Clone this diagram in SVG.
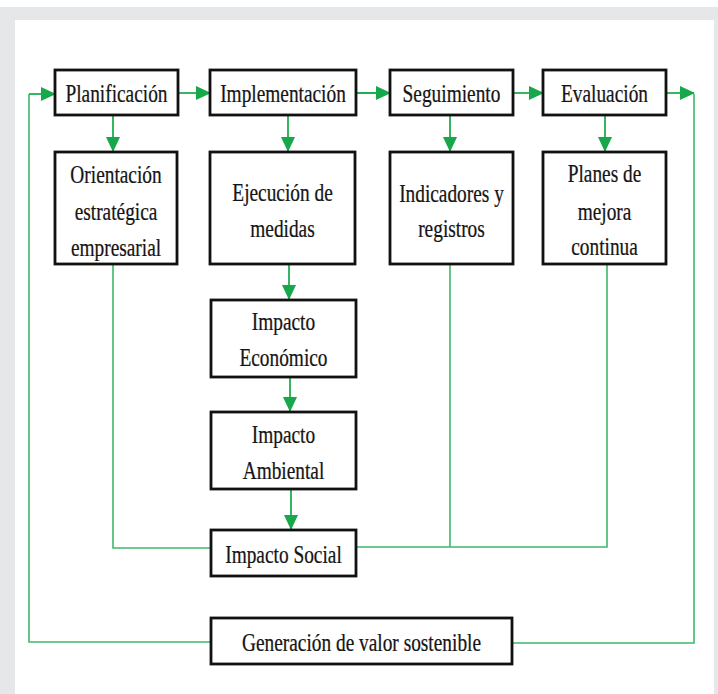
<svg xmlns="http://www.w3.org/2000/svg" width="718" height="694" viewBox="0 0 718 694">
<style>
.box{fill:#fff;stroke:#111;stroke-width:2.8}
.t{font-family:"Liberation Serif","Times New Roman",serif;font-size:24.5px;fill:#151515;stroke:#151515;stroke-width:0.25;text-anchor:middle;transform:scaleX(0.79);transform-box:fill-box;transform-origin:center}
.ln{fill:none;stroke:#3db86b;stroke-width:1.6}
.ar{fill:none;stroke:#1fae50;stroke-width:1.8}
</style>
<defs>
<marker id="ah" markerUnits="userSpaceOnUse" markerWidth="15" markerHeight="14" refX="14" refY="7" orient="auto">
<path d="M0,0 L15,7 L0,14 z" fill="#16a84a"/>
</marker>
</defs>
<rect x="0" y="0" width="718" height="694" fill="#fff"/>
<rect x="0" y="7" width="718" height="687" fill="#e6e7e9"/>
<rect x="15" y="20" width="699" height="674" fill="#fff"/>

<g id="connectors">
<path class="ln" d="M113,264 V548 H211"/>
<path class="ln" d="M356,547 H607 V264"/>
<path class="ln" d="M450,264 V547"/>
<path class="ln" d="M211,642 H29 V94"/>
<path class="ln" d="M512,643 H694 V94"/>
<path class="ar" d="M29,94 H55" marker-end="url(#ah)"/>
<path class="ar" d="M178,93 H210" marker-end="url(#ah)"/>
<path class="ar" d="M356,93 H390" marker-end="url(#ah)"/>
<path class="ar" d="M513,93 H543" marker-end="url(#ah)"/>
<path class="ar" d="M666,93 H694" marker-end="url(#ah)"/>
<path class="ar" d="M113,116 V151" marker-end="url(#ah)"/>
<path class="ar" d="M288,116 V151" marker-end="url(#ah)"/>
<path class="ar" d="M450,116 V151" marker-end="url(#ah)"/>
<path class="ar" d="M605,116 V151" marker-end="url(#ah)"/>
<path class="ar" d="M289,265 V299" marker-end="url(#ah)"/>
<path class="ar" d="M290,378 V411" marker-end="url(#ah)"/>
<path class="ar" d="M291,490 V529" marker-end="url(#ah)"/>
</g>

<g id="planificacion"><rect class="box" x="55" y="70" width="123" height="45"/><text class="t" x="116.5" y="102">Planificación</text></g>
<g id="implementacion"><rect class="box" x="210" y="70" width="146" height="45"/><text class="t" x="283" y="102">Implementación</text></g>
<g id="seguimiento"><rect class="box" x="390" y="70" width="123" height="45"/><text class="t" x="451.5" y="102">Seguimiento</text></g>
<g id="evaluacion"><rect class="box" x="543" y="70" width="123" height="45"/><text class="t" x="604.5" y="102">Evaluación</text></g>

<g id="orientacion"><rect class="box" x="55" y="152" width="122" height="112"/>
<text class="t" x="116" y="183">Orientación</text>
<text class="t" x="116" y="220">estratégica</text>
<text class="t" x="116" y="256">empresarial</text></g>
<g id="ejecucion"><rect class="box" x="210" y="152" width="145" height="112"/>
<text class="t" x="282.5" y="201">Ejecución de</text>
<text class="t" x="282.5" y="237">medidas</text></g>
<g id="indicadores"><rect class="box" x="390" y="152" width="123" height="112"/>
<text class="t" x="451.5" y="202">Indicadores y</text>
<text class="t" x="451.5" y="237">registros</text></g>
<g id="planes"><rect class="box" x="543" y="152" width="123" height="112"/>
<text class="t" x="604.5" y="182">Planes de</text>
<text class="t" x="604.5" y="220">mejora</text>
<text class="t" x="604.5" y="255">continua</text></g>

<g id="economico"><rect class="box" x="211" y="300" width="145" height="77"/>
<text class="t" x="283.5" y="330">Impacto</text>
<text class="t" x="283.5" y="366">Económico</text></g>
<g id="ambiental"><rect class="box" x="211" y="412" width="145" height="77"/>
<text class="t" x="283.5" y="443">Impacto</text>
<text class="t" x="283.5" y="479">Ambiental</text></g>
<g id="social"><rect class="box" x="211" y="530" width="145" height="46"/>
<text class="t" x="283.5" y="563">Impacto Social</text></g>
<g id="generacion"><rect class="box" x="211" y="618" width="301" height="46"/>
<text class="t" x="361.5" y="651">Generación de valor sostenible</text></g>
</svg>
